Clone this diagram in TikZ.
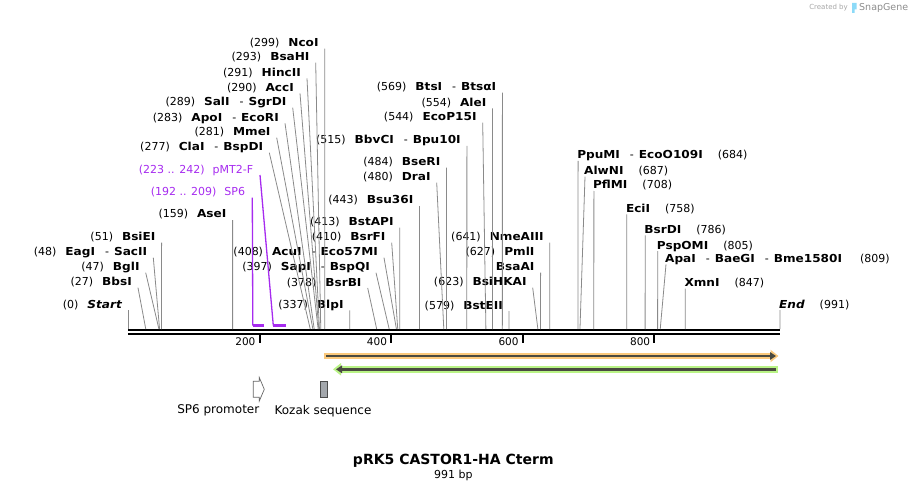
\documentclass[tikz,border=0pt]{standalone}
\usepackage{fontspec}
\setmainfont{DejaVu Sans}
\newfontfamily\enzfont{DejaVu Sans}[FakeStretch=1.1]
\usetikzlibrary{positioning, arrows.meta}

\definecolor{sitegray}{HTML}{8A8A8A}
\definecolor{primerpurple}{HTML}{A62BEF}
\definecolor{cdsorange}{HTML}{FBC97C}
\definecolor{hagreen}{HTML}{B9F386}
\definecolor{featdark}{HTML}{4A4A40}
\definecolor{kozakgray}{HTML}{A3A7AC}

\newcommand{\enz}[1]{{\enzfont\bfseries #1}}
\newcommand{\dash}{\hspace{10pt}-\hspace{5pt}}

\begin{document}
\begin{tikzpicture}[x=1pt, y=-1pt]
    \tikzstyle{lbl}=[inner sep=0, font=\fontsize{11}{13}\selectfont]
    \tikzstyle{lft}=[lbl, anchor=base east]
    \tikzstyle{rgt}=[lbl, anchor=base west]
    \tikzstyle{cut}=[draw=sitegray, line width=0.8pt]
    \tikzstyle{primer}=[draw=primerpurple, line width=1.3pt]
    \tikzstyle{primerbar}=[draw=primerpurple, line width=2.5pt]
    \useasboundingbox (0,0) rectangle (908,492);

    % backbone and ruler
    \coordinate (bbL) at (128,332.3);
    \coordinate (bbR) at (780,332.3);
    \draw[line width=2pt, double distance=2.3pt] (bbL) -- (bbR);
    \foreach \t in {200,400,600,800} {
        \draw[line width=2pt] ({128+\t*0.6579},335) -- ({128+\t*0.6579},342.5);
        \node[inner sep=0, anchor=east, font=\fontsize{10.5}{12}\selectfont] at ({124+\t*0.6579},342) {\t};
    }

    % cut sites on the backbone
    \foreach \p in {0,27,47,48,51,159,277,281,283,289,290,291,293,299,337,378,397,408,410,413,
                    443,480,484,515,544,554,569,579,623,627,641,684,687,708,758,786,805,809,847,991}
        \coordinate (s\p) at ({128+\p*0.6579},329);

    % enzymes left of their line
    \node[lft] (n299) at (318.7,46.7) {(299)\hspace{9pt}\enz{NcoI}};
    \node[lft] (n293) at (309.7,60.7) {(293)\hspace{9pt}\enz{BsaHI}};
    \node[lft] (n291) at (301,76.3) {(291)\hspace{9pt}\enz{HincII}};
    \node[lft] (n290) at (294,91.3) {(290)\hspace{9pt}\enz{AccI}};
    \node[lft] (n289) at (286.7,105.7) {(289)\hspace{9pt}\enz{SalI}\dash\enz{SgrDI}};
    \node[lft] (n283) at (279,121.3) {(283)\hspace{9pt}\enz{ApoI}\dash\enz{EcoRI}};
    \node[lft] (n281) at (270.7,135.7) {(281)\hspace{9pt}\enz{MmeI}};
    \node[lft] (n277) at (263.3,150.7) {(277)\hspace{9pt}\enz{ClaI}\dash\enz{BspDI}};
    \node[lft] (n569) at (496.4,90.7) {(569)\hspace{9pt}\enz{BtsI}\dash\enz{BtsαI}};
    \node[lft] (n554) at (486.5,106.3) {(554)\hspace{9pt}\enz{AleI}};
    \node[lft] (n544) at (476.7,120.7) {(544)\hspace{9pt}\enz{EcoP15I}};
    \node[lft] (n515) at (460.9,144) {(515)\hspace{9pt}\enz{BbvCI}\dash\enz{Bpu10I}};
    \node[lft] (n484) at (440.5,165.7) {(484)\hspace{9pt}\enz{BseRI}};
    \node[lft] (n480) at (430.7,180.7) {(480)\hspace{9pt}\enz{DraI}};
    \node[lft] (n443) at (413.5,204) {(443)\hspace{9pt}\enz{Bsu36I}};
    \node[lft] (n413) at (393.8,225.7) {(413)\hspace{9pt}\enz{BstAPI}};
    \node[lft] (n410) at (385.7,240.7) {(410)\hspace{9pt}\enz{BsrFI}};
    \node[lft] (n408) at (378,255.7) {(408)\hspace{9pt}\enz{AcuI}\dash\enz{Eco57MI}};
    \node[lft] (n397) at (370,270.7) {(397)\hspace{9pt}\enz{SapI}\dash\enz{BspQI}};
    \node[lft] (n378) at (361.7,286) {(378)\hspace{9pt}\enz{BsrBI}};
    \node[lft] (n337) at (343.7,308.3) {(337)\hspace{9pt}\enz{BlpI}};
    \node[lft] (n159) at (226.6,218) {(159)\hspace{9pt}\enz{AseI}};
    \node[lft] (n51) at (155.6,240.7) {(51)\hspace{9pt}\enz{BsiEI}};
    \node[lft] (n48) at (147.3,255.7) {(48)\hspace{9pt}\enz{EagI}\dash\enz{SacII}};
    \node[lft] (n47) at (139.7,270.7) {(47)\hspace{9pt}\enz{BglI}};
    \node[lft] (n27) at (132,285.7) {(27)\hspace{9pt}\enz{BbsI}};
    \node[lft] (n0) at (122,308.3) {(0)\hspace{9pt}\enz{\itshape Start}};
    \node[lft] (n641) at (543.8,240.7) {(641)\hspace{9pt}\enz{NmeAIII}};
    \node[lft] (n627) at (534.6,255.7) {(627)\hspace{9pt}\enz{PmlI}};
    \node[lft] (n627b) at (534.6,270.7) {\enz{BsaAI}};
    \node[lft] (n623) at (526.7,285.7) {(623)\hspace{9pt}\enz{BsiHKAI}};
    \node[lft] (n579) at (503,309) {(579)\hspace{9pt}\enz{BstEII}};

    % enzymes right of their line
    \node[rgt] (n684) at (577.1,159) {\enz{PpuMI}\dash\enz{EcoO109I}\hspace{15pt}(684)};
    \node[rgt] (n687) at (584,174.7) {\enz{AlwNI}\hspace{15pt}(687)};
    \node[rgt] (n708) at (592.9,189) {\enz{PflMI}\hspace{15pt}(708)};
    \node[rgt] (n758) at (625.8,212.3) {\enz{EciI}\hspace{15pt}(758)};
    \node[rgt] (n786) at (644.2,233.3) {\enz{BsrDI}\hspace{15pt}(786)};
    \node[rgt] (n805) at (656.7,249) {\enz{PspOMI}\hspace{15pt}(805)};
    \node[rgt] (n809) at (665,262.3) {\enz{ApaI}\dash\enz{BaeGI}\dash\enz{Bme1580I}\hspace{18pt}(809)};
    \node[rgt] (n847) at (684.3,286.7) {\enz{XmnI}\hspace{15pt}(847)};
    \node[rgt] (n991) at (779,308) {\enz{\itshape End}\hspace{15pt}(991)};

    \foreach \p in {299,293,291,290,289,283,281,277,569,554,544,515,484,480,443,413,410,408,397,378,337,159,51,48,47,27,0,641,623,579}
        \draw[cut] ([shift={(6,2)}]n\p.base east) -- (s\p);
    \draw[cut] ([shift={(6,2)}]n627b.base east) -- (s627);
    \foreach \p in {684,687,708,758,786,805,809,847,991}
        \draw[cut] ([shift={(1,2)}]n\p.base west) -- (s\p);

    % primers
    \node[lft, text=primerpurple] (pmt) at (253.3,174) {(223 .. 242)\hspace{8pt}pMT2-F};
    \node[lft, text=primerpurple] (sp6p) at (245.3,195.7) {(192 .. 209)\hspace{8pt}SP6};
    \coordinate (pmtA) at (273.3,325.5);
    \coordinate (pmtB) at (286,325.5);
    \coordinate (sp6A) at (252.8,325.5);
    \coordinate (sp6B) at (264,325.5);
    \draw[primer] ([shift={(6.7,1)}]pmt.base east) -- (pmtA);
    \draw[primerbar] (pmtA) -- (pmtB);
    \draw[primer] ([shift={(7,2)}]sp6p.base east) -- (sp6A);
    \draw[primerbar] (sp6A) -- (sp6B);

    % features
    \coordinate (cdsL) at (324,356);
    \coordinate (cdsR) at (778.5,356);
    \draw[line width=6.5pt, cdsorange, -{Triangle[length=8pt,width=12pt]}] (cdsL) -- (cdsR);
    \draw[line width=2.4pt, featdark, -{Triangle[length=6pt,width=7.5pt]}] (326,356) -- (776,356);
    \coordinate (haR) at (778,369.3);
    \coordinate (haL) at (333,369.3);
    \draw[line width=6.5pt, hagreen, -{Triangle[length=8pt,width=12pt]}] (haR) -- (haL);
    \draw[line width=2.4pt, featdark, -{Triangle[length=6pt,width=7.5pt]}] (775.5,369.3) -- (336,369.3);

    \draw[draw=black!60, fill=white, line width=0.7pt] (253.3,381.3) -- (259.3,381.3) -- (259.3,377.5)
        -- (264.3,389.3) -- (259.3,401) -- (259.3,397.3) -- (253.3,397.3) -- cycle;
    \node[draw=black!70, fill=kozakgray, line width=0.7pt, inner sep=0, minimum width=7.7pt, minimum height=16pt]
        (kozak) at (323.8,389) {};
    \node[inner sep=0, font=\fontsize{12}{14}\selectfont] (sp6lbl) at (218.3,410.7) {SP6 promoter};
    \node[inner sep=0, font=\fontsize{12}{14}\selectfont] (kozaklbl) at (323,410.7) {Kozak sequence};

    % title
    \node[inner sep=0, font=\fontsize{14}{16}\bfseries] (title) at (453.3,461) {pRK5 CASTOR1-HA Cterm};
    \node[inner sep=0, font=\fontsize{11}{13}\selectfont] (size) at (453.3,475.5) {991 bp};

    % watermark
    \node[inner sep=0, anchor=east, text=black!35, font=\fontsize{7}{8}\selectfont] (made) at (848,8) {Created by};
    \fill[cyan!45] (852,3) rectangle (856.5,9.5) (852,9.5) rectangle (854.5,13);
    \node[inner sep=0, anchor=west, text=black!45, font=\fontsize{9.5}{11}\selectfont] (snap) at (859,8) {SnapGene};
\end{tikzpicture}
\end{document}
